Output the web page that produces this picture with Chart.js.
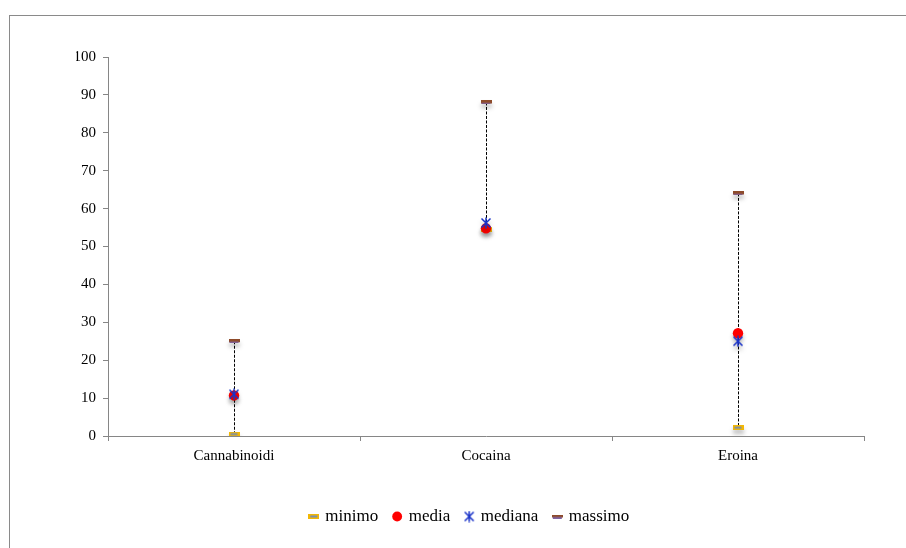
<!DOCTYPE html>
<html>
<head>
<meta charset="utf-8">
<script src="https://cdn.jsdelivr.net/npm/chart.js@4.4.1/dist/chart.umd.min.js"></script>
<style>
  html, body { margin:0; padding:0; background:#fff; }
  #wrap { position:relative; width:906px; height:548px; overflow:hidden; }
  #frame { position:absolute; left:9px; top:15px; width:1000px; height:1000px;
           border-left:1px solid #8a8a8a; border-top:1px solid #8a8a8a; }
  canvas { position:absolute; left:0; top:0; }
</style>
</head>
<body>
<div id="wrap">
  <div id="frame"></div>
  <canvas id="c" width="906" height="548"></canvas>
</div>
<script>
const categories = ['Cannabinoidi', 'Cocaina', 'Eroina'];
const minimo  = [0.5, 54.6, 2.2];
const media   = [10.7, 54.8, 27.1];
const mediana = [11, 56.2, 25];
const massimo = [25, 88, 64];
const yTicks  = [0, 10, 20, 30, 40, 50, 60, 70, 80, 90, 100];

function makeCanvas(w, h, draw) {
  const c = document.createElement('canvas');
  c.width = w; c.height = h;
  draw(c.getContext('2d'));
  return c;
}
const dashMin = makeCanvas(11, 5, g => {
  g.fillStyle = '#F2B705'; g.fillRect(0, 0, 11, 5);
  g.fillStyle = '#7A8FAE'; g.fillRect(2, 1.5, 7, 2);
});
const dashMax = makeCanvas(11, 4, g => {
  g.fillStyle = '#8E4B2A'; g.fillRect(0, 0, 11, 3);
  g.fillStyle = '#8064A2'; g.fillRect(1, 2.5, 9, 1.5);
});
const starMark = makeCanvas(12, 12, g => {
  g.strokeStyle = '#1A33C8'; g.lineWidth = 1.5;
  g.beginPath();
  g.moveTo(1.5, 1.5); g.lineTo(10.5, 10.5);
  g.moveTo(10.5, 1.5); g.lineTo(1.5, 10.5);
  g.moveTo(6, 0.5); g.lineTo(6, 11.5);
  g.stroke();
});

const whiskers = {
  id: 'whiskers',
  beforeDatasetsDraw(chart) {
    const { ctx, scales: { x, y } } = chart;
    ctx.save();
    ctx.strokeStyle = '#000';
    ctx.lineWidth = 1;
    ctx.setLineDash([3, 1.5]);
    categories.forEach((c, i) => {
      const px = Math.round(x.getPixelForValue(i)) + 0.5;
      ctx.beginPath();
      ctx.moveTo(px, y.getPixelForValue(massimo[i]));
      ctx.lineTo(px, y.getPixelForValue(minimo[i]));
      ctx.stroke();
    });
    ctx.restore();
  },
  beforeDatasetDraw(chart) {
    const ctx = chart.ctx;
    ctx.save();
    ctx.shadowColor = 'rgba(0,0,0,0.25)';
    ctx.shadowBlur = 4;
    ctx.shadowOffsetY = 4;
  },
  afterDatasetDraw(chart) {
    chart.ctx.restore();
  }
};

const font = 'Liberation Serif, Times New Roman, serif';

new Chart(document.getElementById('c'), {
  type: 'line',
  data: {
    labels: categories,
    datasets: [
      { label: 'minimo', data: minimo, showLine: false, pointStyle: dashMin, pointRadius: 6, order: 4 },
      { label: 'media', data: media, showLine: false, pointStyle: 'circle', pointRadius: 5.2,
        backgroundColor: '#FF0000', borderColor: '#FF0000', pointBorderWidth: 0, order: 2 },
      { label: 'mediana', data: mediana, showLine: false, pointStyle: starMark, pointRadius: 6, order: 1 },
      { label: 'massimo', data: massimo, showLine: false, pointStyle: dashMax, pointRadius: 6, order: 0 }
    ]
  },
  options: {
    responsive: false,
    animation: false,
    events: [],
    layout: { padding: { left: 76, right: 42, top: 57, bottom: 13 } },
    plugins: {
      tooltip: { enabled: false },
      legend: {
        position: 'bottom',
        labels: {
          usePointStyle: true,
          boxWidth: 6, boxHeight: 7,
          padding: 16,
          color: '#000',
          font: { family: font, size: 17 },
          sort: (a, b) => a.datasetIndex - b.datasetIndex
        }
      }
    },
    scales: {
      x: {
        type: 'category',
        offset: true,
        grid: { offset: true, drawOnChartArea: false, drawTicks: true, tickLength: 5, color: '#868686' },
        border: { color: '#868686' },
        ticks: { color: '#000', font: { family: font, size: 15 }, padding: 6 },
        afterFit(s) { s.height = 56; }
      },
      y: {
        min: 0, max: 100,
        afterBuildTicks(s) { s.ticks = yTicks.map(v => ({ value: v })); },
        grid: { drawOnChartArea: false, drawTicks: true, tickLength: 5, color: '#868686' },
        border: { color: '#868686' },
        ticks: { color: '#000', font: { family: font, size: 15 }, padding: 7 },
        afterFit(s) { s.width = 32; }
      }
    }
  },
  plugins: [whiskers]
});
</script>
</body>
</html>
